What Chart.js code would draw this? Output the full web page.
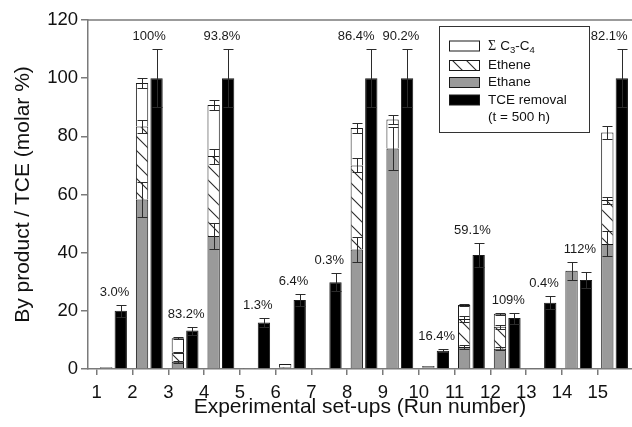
<!DOCTYPE html>
<html><head><meta charset="utf-8">
<script src="https://cdn.jsdelivr.net/npm/chart.js@4/dist/chart.umd.min.js"></script>
<style>html,body{margin:0;padding:0;background:#fff;overflow:hidden}</style>
</head><body>
<canvas id="c" width="632" height="427"></canvas>
<script>
// ---- data ----
const runLabels = ['1','2','3','4','5','6','7','8','9','10','11','12','13','14','15'];
const ethane    = [0.4, 58.3, 2.5, 45.7, 0.2, 0.4, 0.2, 41.1, 75.8, 0.6, 7.6, 7.0, 0.2, 33.8, 43.0];
const ethaneErr = [0,   5.9,  0.4, 4.6,  0,   0,   0,   4.2,  7.5,  0,   0.8, 0.6, 0,   3.1,  4.3];
const ethene    = [0,   25.1, 3.2, 27.5, 0,   0.3, 0,   28.9, 0,    0,   9.6, 7.5, 0,   0,    15.1];
const etheneErr = [0,   2.3,  0.3, 2.6,  0,   0,   0,   2.4,  0,    0,   0.9, 0.6, 0,   0,    1.2];
const c3c4      = [0.3, 14.9, 4.9, 17.6, 0.1, 1.0, 0,   12.9, 10.0, 0.4, 4.8, 4.5, 0,   0,    23.2];
const c3c4Err   = [0,   1.8,  0.3, 1.8,  0,   0,   0,   1.7,  1.6,  0,   0.5, 0.4, 0,   0,    2.2];
const tceRemoval= [20.0, 100, 13.2, 100, 16.0, 23.7, 29.8, 100, 100, 6.3, 39.2, 17.5, 22.8, 30.6, 100];
const tceErr    = [2.0,  10,  1.4,  10,  1.6,  2.2,  3.1,  10,  10,  0.6, 4.0,  1.9,  2.3,  2.9,  10];
const recovery  = ['3.0%','100%','83.2%','93.8%','1.3%','6.4%','0.3%','86.4%','90.2%','16.4%','59.1%','109%','0.4%','112%','82.1%'];

const FONT = '"Liberation Sans", Arial, Helvetica, sans-serif';
const canvas = document.getElementById('c');
const ctx0 = canvas.getContext('2d');

// small horizontal nudges (px) that the original figure used to keep labels apart
const labelNudge = { 1: -1.3, 7: -9, 14: -6.5 };

function makeHatch() {
  const s = 14;
  const c = document.createElement('canvas'); c.width = s; c.height = s;
  const g = c.getContext('2d');
  g.fillStyle = '#ffffff'; g.fillRect(0, 0, s, s);
  g.strokeStyle = '#2a2a2a'; g.lineWidth = 1.1;
  g.beginPath();
  g.moveTo(-1, -1); g.lineTo(s + 1, s + 1);
  g.moveTo(-1, s - 1); g.lineTo(1, s + 1);
  g.moveTo(s - 1, -1); g.lineTo(s + 1, 1);
  g.stroke();
  return ctx0.createPattern(c, 'repeat');
}
const hatch = makeHatch();

const pos = (arr) => arr.map((v, i) => ({ x: i + 1.47, y: v }));

const common = { borderColor: '#1a1a1a', borderWidth: 1, categoryPercentage: 0.81, barPercentage: 0.85 };
const datasets = [
  Object.assign({ label: 'Ethane', data: pos(ethane), errors: ethaneErr, backgroundColor: '#9a9a9a', stack: 's' }, common),
  Object.assign({ label: 'Ethene', data: pos(ethene), errors: etheneErr, backgroundColor: hatch, stack: 's' }, common),
  Object.assign({ label: 'Σ C3-C4', data: pos(c3c4), errors: c3c4Err, backgroundColor: '#ffffff', stack: 's' }, common),
  Object.assign({ label: 'TCE removal (t = 500 h)', data: pos(tceRemoval), errors: tceErr, backgroundColor: '#000000', stack: 't' }, common)
];

const errorBars = {
  id: 'errorBars',
  afterDatasetsDraw(chart) {
    const ctx = chart.ctx, ys = chart.scales.y;
    ctx.save();
    ctx.strokeStyle = '#2b2b2b'; ctx.lineWidth = 1;
    chart.data.datasets.forEach((ds, di) => {
      const meta = chart.getDatasetMeta(di);
      meta.data.forEach((bar, i) => {
        const e = ds.errors[i];
        if (!e) return;
        const { x, y } = bar.getProps(['x', 'y'], true);
        const d = ys.getPixelForValue(0) - ys.getPixelForValue(e);
        const cap = 5;
        const xx = Math.round(x) + 0.5;
        const t = Math.round(y - d) + 0.5, b = Math.round(y + d) + 0.5;
        ctx.beginPath();
        ctx.moveTo(xx, t); ctx.lineTo(xx, b);
        ctx.moveTo(xx - cap, t); ctx.lineTo(xx + cap, t);
        ctx.moveTo(xx - cap, b); ctx.lineTo(xx + cap, b);
        ctx.stroke();
      });
    });
    ctx.restore();
  }
};

const annotations = {
  id: 'annotations',
  afterDraw(chart) {
    const ctx = chart.ctx, ys = chart.scales.y, xs = chart.scales.x, area = chart.chartArea;
    ctx.save();
    // top frame line
    ctx.strokeStyle = '#7a7a7a'; ctx.lineWidth = 1.5;
    ctx.beginPath(); ctx.moveTo(area.left, area.top); ctx.lineTo(area.right, area.top); ctx.stroke();

    // percent labels above each group
    ctx.fillStyle = '#1a1a1a';
    ctx.font = '13px ' + FONT;
    ctx.textAlign = 'center'; ctx.textBaseline = 'middle';
    recovery.forEach((txt, i) => {
      let minPix = Infinity;
      chart.data.datasets.forEach((ds, di) => {
        const bar = chart.getDatasetMeta(di).data[i];
        const { y } = bar.getProps(['y'], true);
        const d = ys.getPixelForValue(0) - ys.getPixelForValue(ds.errors[i] || 0);
        minPix = Math.min(minPix, y - d);
      });
      ctx.fillText(txt, xs.getPixelForValue(i + 1.5) + (labelNudge[i] || 0), minPix - 12.5);
    });

    // legend box
    const bx = 439.5, by = 26.5, bw = 150, bh = 106;
    ctx.fillStyle = '#fff'; ctx.fillRect(bx, by, bw, bh);
    ctx.strokeStyle = '#333'; ctx.lineWidth = 1; ctx.strokeRect(bx, by, bw, bh);
    const order = [2, 1, 0, 3];
    const rowY = [46, 65.5, 82.5, 100];
    order.forEach((di, k) => {
      const ds = chart.data.datasets[di];
      const y = rowY[k];
      ctx.fillStyle = ds.backgroundColor;
      ctx.fillRect(449.5, y - 5, 30, 10);
      ctx.strokeStyle = '#1a1a1a'; ctx.strokeRect(449.5, y - 5, 30, 10);
    });
    ctx.fillStyle = '#111'; ctx.textAlign = 'left'; ctx.textBaseline = 'middle';
    const tx = 488;
    let x = tx;
    const main = '13.5px ' + FONT, sub = '9.5px ' + FONT;
    ctx.font = '14px "Liberation Serif", "Times New Roman", serif';
    ctx.fillText('Σ', x, rowY[0]); x += ctx.measureText('Σ').width + 4;
    ctx.font = main; ctx.fillText('C', x, rowY[0]); x += ctx.measureText('C').width;
    ctx.font = sub; ctx.fillText('3', x, rowY[0] + 4); x += ctx.measureText('3').width;
    ctx.font = main; ctx.fillText('-C', x, rowY[0]); x += ctx.measureText('-C').width;
    ctx.font = sub; ctx.fillText('4', x, rowY[0] + 4);
    ctx.font = main;
    ctx.fillText('Ethene', tx, rowY[1]);
    ctx.fillText('Ethane', tx, rowY[2]);
    ctx.fillText('TCE removal', tx, rowY[3]);
    ctx.fillText('(t = 500 h)', tx, rowY[3] + 17);
    ctx.restore();
  }
};

new Chart(canvas, {
  type: 'bar',
  data: { datasets },
  options: {
    responsive: false,
    animation: false,
    layout: { padding: { top: 20, right: 0, left: 0, bottom: 0 } },
    plugins: { legend: { display: false }, tooltip: { enabled: false } },
    scales: {
      x: {
        type: 'linear',
        offset: false,
        min: 0.757, max: 15.957,
        afterBuildTicks: (s) => { s.ticks = runLabels.map((l, i) => ({ value: i + 1 })); },
        afterFit: (s) => { s.height = 58; },
        ticks: { callback: (v) => runLabels[Math.round(v) - 1], color: '#111', font: { family: FONT, size: 18.5 }, padding: 7, maxRotation: 0, autoSkip: false },
        grid: { offset: false, drawOnChartArea: false, drawTicks: true, tickLength: 6, color: '#7a7a7a', lineWidth: 1.5 },
        border: { color: '#7a7a7a', width: 1.5 },
        title: { display: true, text: 'Experimental set-ups (Run number)', color: '#111', font: { family: FONT, size: 21 }, padding: { top: 0, bottom: 7 } }
      },
      y: {
        stacked: true,
        min: 0, max: 120,
        afterFit: (s) => { s.width = 88; },
        ticks: { stepSize: 20, color: '#111', font: { family: FONT, size: 18.5 }, padding: 3 },
        grid: { drawOnChartArea: false, drawTicks: true, tickLength: 7, color: '#7a7a7a', lineWidth: 1.5 },
        border: { color: '#7a7a7a', width: 1.5 },
        title: { display: true, text: 'By product / TCE (molar %)', color: '#111', font: { family: FONT, size: 21 }, padding: { top: 11, bottom: 0 } }
      }
    }
  },
  plugins: [errorBars, annotations]
});
</script>
</body></html>
